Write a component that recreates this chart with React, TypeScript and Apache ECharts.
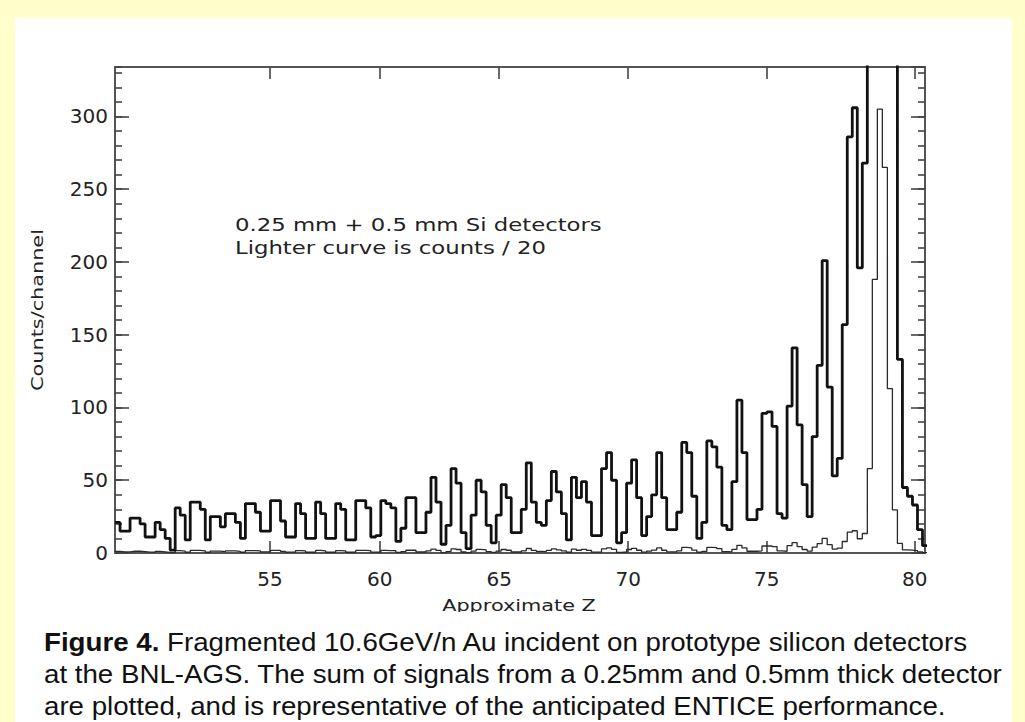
import React, { useEffect, useRef } from "react";
import * as echarts from "echarts";

// Counts per channel (channels are uniform in energy loss, i.e. roughly in Z^2)
const heavyCounts: number[] = [
  21, 15, 15, 24, 24, 20, 11, 11, 21, 16,
  10, 2, 31, 26, 9, 35, 35, 30, 9, 25,
  25, 18, 27, 27, 21, 10, 34, 34, 28, 15,
  15, 36, 36, 22, 11, 11, 34, 27, 10, 10,
  35, 27, 10, 10, 34, 30, 9, 9, 36, 36,
  31, 11, 12, 36, 34, 31, 8, 17, 38, 38,
  14, 14, 28, 52, 35, 6, 19, 58, 48, 14,
  3, 26, 50, 42, 19, 7, 26, 47, 38, 14,
  14, 30, 62, 35, 21, 19, 36, 56, 42, 27,
  9, 52, 38, 49, 35, 12, 12, 58, 69, 50,
  7, 14, 48, 64, 38, 12, 25, 40, 69, 38,
  16, 16, 28, 76, 69, 39, 10, 21, 77, 73,
  59, 19, 16, 49, 105, 69, 23, 23, 30, 96,
  97, 87, 27, 24, 101, 141, 88, 47, 25, 80,
  129, 201, 114, 53, 65, 157, 286, 306, 196, 268,
  1160, 3760, 6100, 5300, 2260, 592, 133, 45, 39, 33,
  16, 5,
];

// Lighter curve: counts / 20 per channel
const lighterCounts: number[] = [
  1.1, 0.8, 0.8, 1.2, 1.2, 1.0, 0.6, 0.6, 1.1, 0.8,
  0.5, 0.1, 1.6, 1.3, 0.5, 1.8, 1.8, 1.5, 0.5, 1.3,
  1.3, 0.9, 1.4, 1.4, 1.1, 0.5, 1.7, 1.7, 1.4, 0.8,
  0.8, 1.8, 1.8, 1.1, 0.6, 0.6, 1.7, 1.4, 0.5, 0.5,
  1.8, 1.4, 0.5, 0.5, 1.7, 1.5, 0.5, 0.5, 1.8, 1.8,
  1.6, 0.6, 0.6, 1.8, 1.7, 1.6, 0.4, 0.9, 1.9, 1.9,
  0.7, 0.7, 1.4, 2.6, 1.8, 0.3, 1.0, 2.9, 2.4, 0.7,
  0.2, 1.3, 2.5, 2.1, 1.0, 0.4, 1.3, 2.4, 1.9, 0.7,
  0.7, 1.5, 3.1, 1.8, 1.1, 1.0, 1.8, 2.8, 2.1, 1.4,
  0.5, 2.6, 1.9, 2.5, 1.8, 0.6, 0.6, 2.9, 3.5, 2.5,
  0.4, 0.7, 2.4, 3.2, 1.9, 0.6, 1.3, 2.0, 3.5, 1.9,
  0.8, 0.8, 1.4, 3.8, 3.5, 2.0, 0.5, 1.1, 3.9, 3.7,
  3.0, 1.0, 0.8, 2.5, 5.3, 3.5, 1.2, 1.2, 1.5, 4.8,
  4.9, 4.4, 1.4, 1.2, 5.1, 7.1, 4.4, 2.4, 1.3, 4.0,
  6.5, 10.1, 5.7, 2.7, 3.3, 7.9, 14.3, 15.3, 9.8, 13.4,
  58, 188, 305, 265, 113, 29.6, 6.6, 2.2, 2.0, 1.7,
  0.8, 0.3,
];

// Approximate Z tick labels
const zTickLabels: number[] = [55, 60, 65, 70, 75, 80];

// axis ranges
const xMaxChannel = 161.5;
const yMax = 334;
const yMajorStep = 50;
const yMinorStep = 10;

// Calibration: channel = CAL_A * Z^2 + CAL_B
const CAL_A = 0.038086;
const CAL_B = -84.307;

const annotationLines: string[] = [
  "0.25 mm + 0.5 mm Si detectors",
  "Lighter curve is counts / 20",
];

const captionLines: string[] = [
  "{b|Figure 4.} Fragmented 10.6GeV/n Au incident on prototype silicon detectors",
  "at the BNL-AGS. The sum of signals from a 0.25mm and 0.5mm thick detector",
  "are plotted, and is representative of the anticipated ENTICE performance.",
];

const HERSHEY = '"DejaVu Sans", sans-serif';
const CAPTION = '"Liberation Sans", Arial, sans-serif';

function toSteps(arr: number[]): number[][] {
  const pts = arr.map((v, i) => [i, v]);
  pts.push([arr.length, arr[arr.length - 1]]);
  return pts;
}

export default function App() {
  const ref = useRef<HTMLDivElement>(null);

  useEffect(() => {
    if (!ref.current) return;
    const chart = echarts.init(ref.current, undefined, { renderer: "svg" });
    const zPositions = zTickLabels.map((z) => CAL_A * z * z + CAL_B);
    const zFormatter = (v: number) => {
      let best = 0;
      zPositions.forEach((p, i) => {
        if (Math.abs(p - v) < Math.abs(zPositions[best] - v)) best = i;
      });
      return String(zTickLabels[best]);
    };
    const axisColor = "#555";
    const tickStyle = { color: "#444", width: 1.6 };

    const xBase = {
      type: "value",
      min: 0,
      max: xMaxChannel,
      splitLine: { show: false },
      axisLine: { show: true, onZero: false, lineStyle: { color: axisColor, width: 2 } },
    };
    const yBase = {
      type: "value",
      min: 0,
      max: yMax,
      splitLine: { show: false },
    };

    chart.setOption({
      animation: false,
      backgroundColor: "#FFFFCC",
      grid: { left: 115, right: 100, top: 67, bottom: 169, containLabel: false },
      xAxis: [
        {
          ...xBase,
          position: "bottom",
          axisTick: { show: true, inside: true, length: 12, lineStyle: tickStyle, customValues: zPositions },
          axisLabel: {
            show: true,
            customValues: zPositions,
            formatter: zFormatter,
            fontFamily: HERSHEY,
            fontSize: 20,
            color: "#222",
            margin: 16,
          },
        },
        {
          ...xBase,
          position: "top",
          axisTick: { show: true, inside: true, length: 12, lineStyle: tickStyle, customValues: zPositions },
          axisLabel: { show: false },
        },
      ],
      yAxis: [
        {
          ...yBase,
          position: "left",
          interval: yMajorStep,
          axisLine: { show: true, lineStyle: { color: axisColor, width: 2 } },
          axisTick: { show: true, inside: true, length: 14, lineStyle: tickStyle },
          axisLabel: {
            show: true,
            showMaxLabel: false,
            fontFamily: HERSHEY,
            fontSize: 20,
            color: "#222",
            margin: 7,
          },
        },
        {
          ...yBase,
          position: "left",
          interval: yMinorStep,
          axisLine: { show: false },
          axisTick: { show: true, inside: true, length: 7, lineStyle: tickStyle },
          axisLabel: { show: false },
        },
        {
          ...yBase,
          position: "right",
          interval: yMajorStep,
          axisLine: { show: true, lineStyle: { color: axisColor, width: 2 } },
          axisTick: { show: true, inside: true, length: 14, lineStyle: tickStyle },
          axisLabel: { show: false },
        },
        {
          ...yBase,
          position: "right",
          interval: yMinorStep,
          axisLine: { show: false },
          axisTick: { show: true, inside: true, length: 7, lineStyle: tickStyle },
          axisLabel: { show: false },
        },
      ],
      series: [
        {
          name: "counts / 20",
          type: "line",
          step: "end",
          data: toSteps(lighterCounts),
          xAxisIndex: 0,
          yAxisIndex: 0,
          showSymbol: false,
          symbol: "none",
          clip: true,
          silent: true,
          z: 2,
          lineStyle: { color: "#2a2a2a", width: 1.3 },
        },
        {
          name: "counts",
          type: "line",
          step: "end",
          data: toSteps(heavyCounts),
          xAxisIndex: 0,
          yAxisIndex: 0,
          showSymbol: false,
          symbol: "none",
          clip: true,
          silent: true,
          z: 3,
          lineStyle: { color: "#111", width: 2.8 },
        },
      ],
      graphic: [
        {
          type: "rect",
          z: -10,
          silent: true,
          shape: { x: 15, y: 18, width: 997, height: 704 },
          style: { fill: "#ffffff" },
        },
        {
          type: "text",
          x: 37,
          y: 310,
          rotation: Math.PI / 2,
          scaleX: 1.3,
          silent: true,
          style: {
            text: "Counts/channel",
            fontFamily: HERSHEY,
            fontSize: 16,
            fill: "#222",
            align: "center",
            verticalAlign: "middle",
          },
        },
        {
          type: "text",
          x: 235,
          y: 225,
          scaleX: 1.34,
          silent: true,
          style: {
            text: annotationLines[0],
            fontFamily: HERSHEY,
            fontSize: 17,
            fill: "#222",
            align: "left",
            verticalAlign: "middle",
          },
        },
        {
          type: "text",
          x: 235,
          y: 248,
          scaleX: 1.34,
          silent: true,
          style: {
            text: annotationLines[1],
            fontFamily: HERSHEY,
            fontSize: 17,
            fill: "#222",
            align: "left",
            verticalAlign: "middle",
          },
        },
        {
          type: "text",
          x: 519,
          y: 605,
          scaleX: 1.3,
          silent: true,
          style: {
            text: "Approximate Z",
            fontFamily: HERSHEY,
            fontSize: 16,
            fill: "#222",
            align: "center",
            verticalAlign: "middle",
          },
        },
        {
          type: "rect",
          z: 100,
          silent: true,
          shape: { x: 15, y: 612, width: 997, height: 110 },
          style: { fill: "#ffffff" },
        },
        ...captionLines.map((line, i) => ({
          type: "text",
          z: 101,
          x: 44,
          y: 642 + i * 32,
          scaleX: 1.065,
          silent: true,
          style: {
            text: line,
            fontFamily: CAPTION,
            fontSize: 26,
            fill: "#111",
            align: "left",
            verticalAlign: "middle",
            rich: {
              b: { fontFamily: CAPTION, fontSize: 26, fontWeight: "bold", fill: "#111" },
            },
          },
        })),
      ],
    });
    return () => chart.dispose();
  }, []);

  return (
    <div
      ref={ref}
      style={{ position: "absolute", left: 0, top: 0, width: 1025, height: 722 }}
    />
  );
}
